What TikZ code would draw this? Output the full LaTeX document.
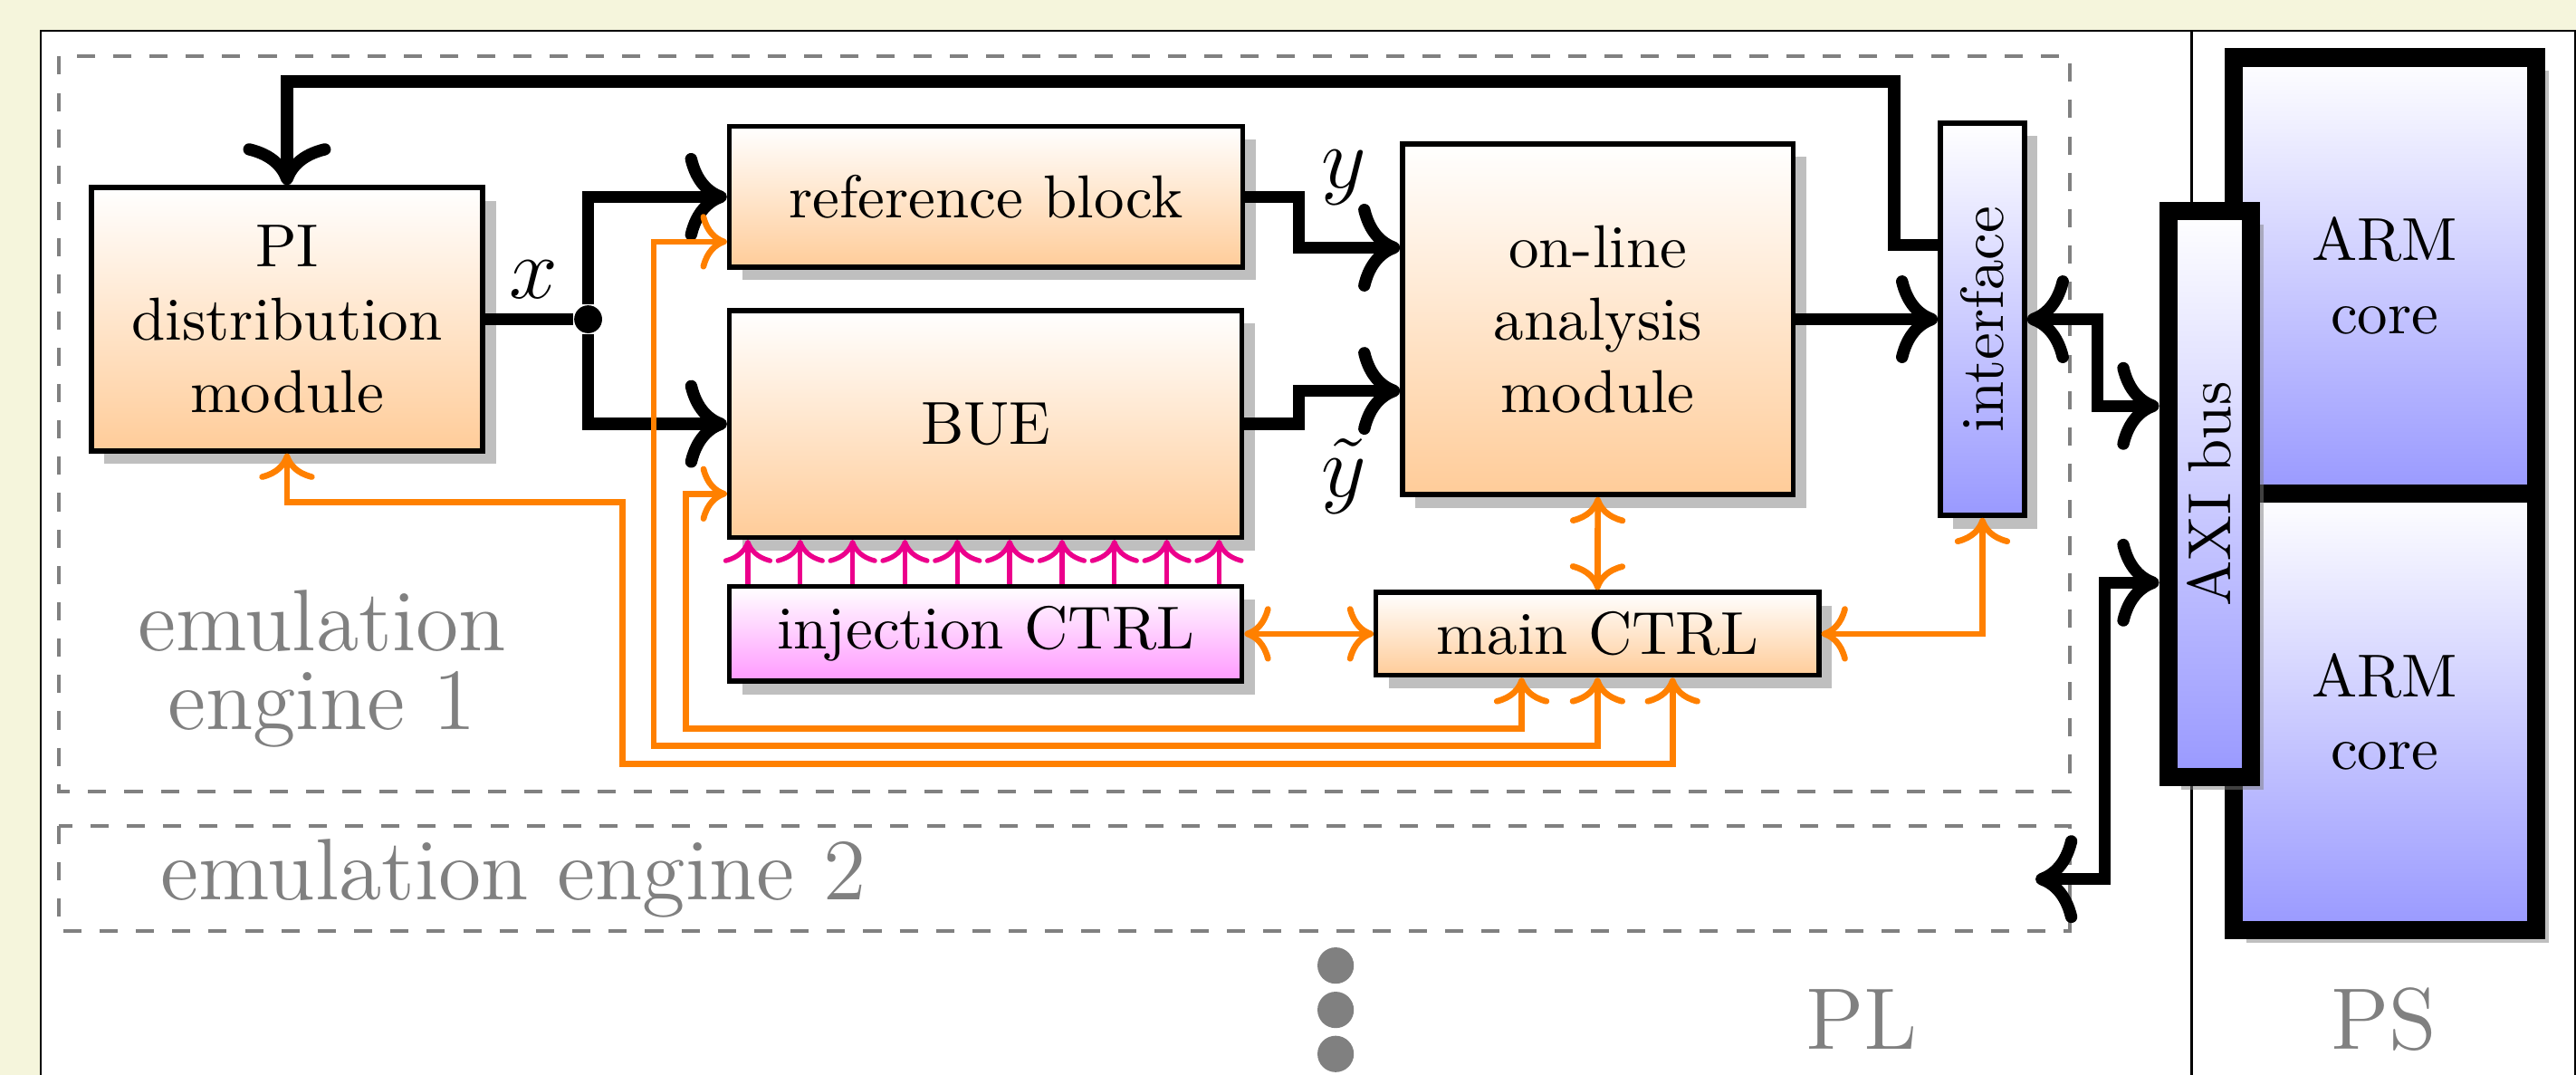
\documentclass[tikz,border=0pt]{standalone}
\usepackage{amsmath}
\usepackage{tikz}
\usetikzlibrary{shadows,arrows.meta}
\definecolor{pagebeige}{RGB}{245,245,220}
\definecolor{injpink}{RGB}{236,0,140}
\tikzset{
  >={Computer Modern Rightarrow[scale=1.15]},
  block/.style={draw, thick, inner sep=0pt, align=center, drop shadow,
    top color=white, bottom color=orange!40},
  pinkblock/.style={block, bottom color=magenta!40},
  blueblock/.style={block, bottom color=blue!40},
  armblock/.style={blueblock, line width=3pt},
  bigline/.style={line width=2pt},
  bigarrow/.style={bigline, ->},
  bigboth/.style={bigline, <->},
  ctrlline/.style={line width=1pt, orange, <->},
  injline/.style={thick, injpink, ->},
  engine/.style={draw=gray, dashed, semithick},
  graytext/.style={text=gray, font=\Large}
}

\begin{document}
\begin{tikzpicture}[x=0.9525cm, y=0.9525cm]

	% page and frame
	\useasboundingbox (0,0) rectangle (15.68,6.54);
	\clip (0,0) rectangle (15.68,6.54);
	\fill[pagebeige] (0,0) rectangle (15.68,6.54);
	\draw[thin, fill=white] (0.248,6.353) rectangle (15.675,-1);
	\draw[thin] (13.34,6.353) -- (13.34,-1);

	% emulation engines
	\draw[engine] (0.36,6.196) rectangle (12.60,1.723);
	\draw[engine] (0.36,1.514) rectangle (12.60,0.874);
	\node[graytext, align=center] (eng1) at (1.96,2.47) {emulation\\[-5pt]engine 1};
	\node[graytext] (eng2) at (3.125,1.193) {emulation engine 2};
	\coordinate (eng2in) at (12.39,1.19);
	\foreach \y in {0.664,0.394,0.126}
		\fill[gray] (8.13,\y) circle (3pt);
	\node[graytext] (pl) at (11.33,0.337) {PL};
	\node[graytext] (ps) at (14.51,0.337) {PS};

	% processing system
	\node[armblock, minimum width=1.753cm, minimum height=2.529cm] (arm1) at (14.515,4.8625) {ARM\\core};
	\node[armblock, minimum width=1.753cm, minimum height=2.529cm] (arm2) at (14.515,2.2075) {ARM\\core};
	\node[armblock, minimum width=0.479cm, minimum height=3.279cm] (axi) at (13.449,3.534) {\rotatebox{90}{AXI bus}};

	% emulation engine blocks
	\node[block, minimum width=2.269cm, minimum height=1.527cm] (pi) at (1.747,4.597) {PI\\distribution\\module};
	\node[block, minimum width=2.975cm, minimum height=0.815cm] (ref) at (6.001,5.342) {reference block};
	\node[block, minimum width=2.972cm, minimum height=1.314cm] (bue) at (6.00,3.96) {BUE};
	\node[pinkblock, minimum width=2.972cm, minimum height=0.548cm] (inj) at (6.00,2.6825) {injection CTRL};
	\node[block, minimum width=2.265cm, minimum height=2.033cm] (ola) at (9.726,4.597) {on-line\\analysis\\module};
	\node[block, minimum width=2.568cm, minimum height=0.481cm] (main) at (9.724,2.6825) {main CTRL};
	\node[blueblock, minimum width=0.489cm, minimum height=2.274cm] (intf) at (12.067,4.597) {\rotatebox{90}{interface}};

	% data path
	\node[circle, fill, inner sep=0pt, minimum size=4.6pt] (split) at (3.58,4.597) {};
	\draw[bigline] (pi.east) -- (split);
	\draw[bigarrow] (split) |- (ref.west);
	\draw[bigarrow] (split) |- (bue.west);
	\node[font=\Large] (xlab) at (3.25,4.84) {$x$};
	\draw[bigarrow] (ref.east) -- ++(0.33,0) |- ([yshift=0.415cm]ola.west);
	\draw[bigarrow] (bue.east) -- ++(0.33,0) |- ([yshift=-0.415cm]ola.west);
	\node[font=\Large] (ylab) at (8.18,5.46) {$y$};
	\node[font=\Large] (ytlab) at (8.18,3.64) {$\tilde{y}$};
	\draw[bigarrow] (ola.east) -- (intf.west);
	\coordinate (fb) at (11.53,6.043);
	\draw[bigarrow] ([yshift=0.431cm]intf.west) -| (fb) -| (pi.north);

	% bus connections
	\draw[bigboth] (intf.east) -- ++(0.43,0) |- ([yshift=0.51cm]axi.west);
	\draw[bigboth] ([yshift=-0.514cm]axi.west) -- ++(-0.33,0) |- (eng2in);

	% control signals
	\draw[ctrlline] (pi.south) |- (3.789,3.484) -- (3.789,1.89) -| ([xshift=0.435cm]main.south);
	\draw[ctrlline] ([yshift=-0.26cm]ref.west) -| (3.98,2.0) -| (main.south);
	\draw[ctrlline] ([yshift=-0.405cm]bue.west) -| (4.175,2.106) -| ([xshift=-0.44cm]main.south);
	\draw[ctrlline] (inj.east) -- (main.west);
	\draw[ctrlline] (ola.south) -- (main.north);
	\draw[ctrlline] (main.east) -| (intf.south);

	% fault injection
	\foreach \i in {0,...,9}
		\draw[injline] ([xshift=1.21mm+\i*3.036mm]inj.north west) -- ([xshift=1.21mm+\i*3.036mm]bue.south west);

\end{tikzpicture}
\end{document}
